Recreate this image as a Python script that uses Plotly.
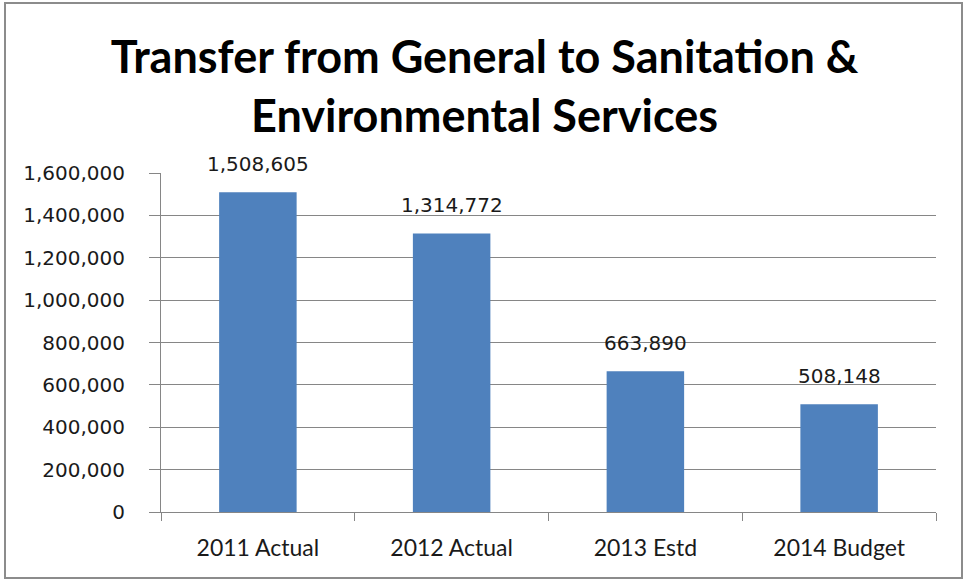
import plotly.graph_objects as go

categories = ["2011 Actual", "2012 Actual", "2013 Estd", "2014 Budget"]
values = [1508605, 1314772, 663890, 508148]
value_labels = ["1,508,605", "1,314,772", "663,890", "508,148"]
title_text = "Transfer from General to Sanitation &<br>Environmental Services"
y_tickvals = [0, 200000, 400000, 600000, 800000, 1000000, 1200000, 1400000, 1600000]

W, H = 969, 581
L, R, T, B = 161, 33, 173, 69
pw, ph = W - L - R, H - T - B

fig = go.Figure()
fig.add_trace(go.Bar(
    x=categories, y=values,
    marker=dict(color="#4F81BD", line=dict(width=0)),
    hoverinfo="skip",
))

for c, v, lab in zip(categories, values, value_labels):
    fig.add_annotation(x=c, y=v, text=lab, showarrow=False,
                       yanchor="bottom", yshift=14,
                       font=dict(family="DejaVu Sans", size=20, color="#1a1a1a"))

def px_x(p):
    return (p - L) / pw

def px_y(p):
    return (H - B - p) / ph

fig.add_shape(type="rect", xref="paper", yref="paper",
              x0=px_x(5), x1=px_x(962), y0=px_y(578), y1=px_y(3),
              line=dict(color="#8c8c8c", width=2), fillcolor="rgba(0,0,0,0)", layer="below")

fig.update_layout(
    width=W, height=H, autosize=False,
    margin=dict(l=L, r=R, t=T, b=B, pad=0),
    paper_bgcolor="white", plot_bgcolor="white",
    bargap=0.6, showlegend=False,
    title=dict(text=title_text, x=0.5, xanchor="center", xref="container",
               y=1 - 73 / H, yanchor="middle", yref="container",
               font=dict(family="Lato", size=45, color="black", weight="bold")),
    xaxis=dict(showline=True, linecolor="#868686", linewidth=1,
               ticks="outside", tickson="boundaries", ticklen=8, tickcolor="#868686",
               tickfont=dict(family="Lato", size=23, color="#1a1a1a"),
               ticklabelstandoff=15, showgrid=False),
    yaxis=dict(range=[0, 1600000], tickvals=y_tickvals, tickformat=",d",
               showline=True, linecolor="#868686", linewidth=1,
               ticks="outside", ticklen=11, tickcolor="#868686",
               showgrid=True, gridcolor="#868686", gridwidth=1,
               tickfont=dict(family="DejaVu Sans", size=20, color="#1a1a1a"),
               ticklabelstandoff=20, zeroline=False),
)

fig.write_html("out.html")
